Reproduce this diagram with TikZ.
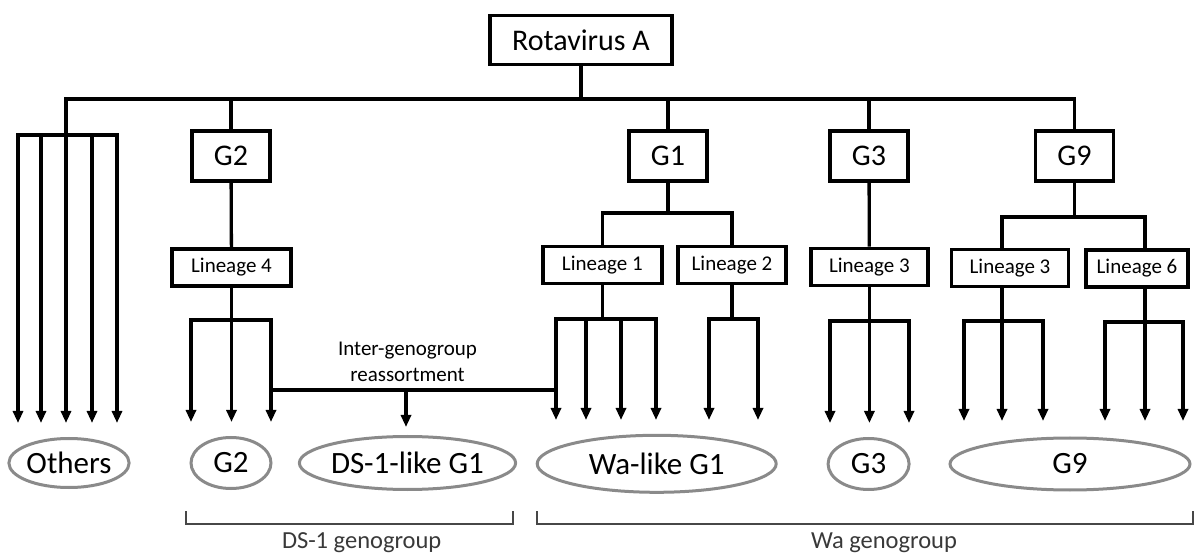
\documentclass[tikz,border=0pt]{standalone}
\usepackage{fontspec}
\setmainfont{Carlito}
\usetikzlibrary{arrows.meta,shapes.geometric}
\definecolor{ellgray}{HTML}{8A8A8A}
\definecolor{brgray}{HTML}{474747}
\tikzset{
  bigbox/.style={draw, line width=3.6pt, inner sep=0pt, minimum height=50pt, font=\fontsize{30}{36}\selectfont},
  linbox/.style={draw, line width=3.6pt, inner sep=0pt, minimum height=37pt, font=\fontsize{21}{25}\selectfont},
  conn/.style={line width=3.3pt},
  arr/.style={line width=3.3pt, -{Triangle[width=10pt,length=12pt]}},
  grp/.style={draw=ellgray, line width=3pt, ellipse, inner sep=0pt, font=\fontsize{31}{37}\selectfont},
  bracketline/.style={draw=brgray, line width=2.4pt},
  grplabel/.style={text=brgray!80!black, font=\fontsize{24.5}{29}\selectfont, inner sep=0pt}
}
\begin{document}
\begin{tikzpicture}[x=1pt,y=-1pt]
\useasboundingbox (0,0) rectangle (1195,553);

% top-level boxes
\node[bigbox, minimum width=182pt, minimum height=49pt] (root) at (581,40) {Rotavirus A};
\node[bigbox, minimum width=78pt] (G2) at (231,156) {G2};
\node[bigbox, minimum width=78pt] (G1) at (668,156) {G1};
\node[bigbox, minimum width=78pt] (G3) at (869,156) {G3};
\node[bigbox, minimum width=78pt] (G9) at (1074.4,156) {G9};

% lineage boxes
\node[linbox, minimum width=119pt] (L4) at (231.5,267.5) {Lineage 4};
\node[linbox, minimum width=119pt] (L1) at (602.3,265) {Lineage 1};
\node[linbox, minimum width=108pt] (L2) at (732,265) {Lineage 2};
\node[linbox, minimum width=117pt] (L3a) at (869.4,267) {Lineage 3};
\node[linbox, minimum width=117pt] (L3b) at (1010,268) {Lineage 3};
\node[linbox, minimum width=102pt] (L6) at (1137,268.5) {Lineage 6};

% group ellipses
\node[grp, minimum width=120pt, minimum height=49pt] (eOth) at (69,463) {Others};
\node[grp, minimum width=80pt, minimum height=51pt] (eG2) at (231,463) {G2};
\node[grp, minimum width=205pt, minimum height=53pt] (eDS) at (407.5,463) {DS-1-like G1};
\node[grp, minimum width=239pt, minimum height=57pt] (eWa) at (656.7,463.8) {Wa-like G1};
\node[grp, minimum width=81pt, minimum height=51pt] (eG3) at (868.6,464) {G3};
\node[grp, minimum width=240pt, minimum height=52pt] (eG9) at (1070,464) {G9};

% main bar
\coordinate (barL) at (66,99);
\coordinate (barR) at (1074.4,99);
\draw[conn] (root.south) -- (root.south |- barL);
\draw[conn, line cap=rect] (barL) -- (barR);
\draw[conn] (G2.north |- barL) -- (G2.north);
\draw[conn] (G1.north |- barL) -- (G1.north);
\draw[conn] (G3.north |- barL) -- (G3.north);
\draw[conn] (barR) -- (G9.north);

% Others
\coordinate (othJ) at (66,135);
\coordinate (othA) at (18,135);
\coordinate (othB) at (117,135);
\draw[conn] (barL) -- (othJ);
\draw[conn, line cap=rect] (othA) -- (othB);
\foreach \x/\n in {18/1,41/2,66/3,92/4,117/5}{
  \coordinate (ot\n) at (\x,423);
  \draw[arr] (\x,135) -- (ot\n);
}

% G2 branch
\draw[conn] (G2) -- (L4);
\coordinate (l4J) at (231.5,320);
\draw[conn] (L4.south) -- (l4J);
\draw[conn, line cap=rect] (191,320) -- (271,320);
\foreach \x/\n in {191/1,231.5/2,271/3}{
  \coordinate (l4t\n) at (\x,422);
  \draw[arr] (\x,320) -- (l4t\n);
}

% reassortment
\coordinate (reL) at (271,390);
\coordinate (reR) at (556,390);
\coordinate (reM) at (406,390);
\coordinate (reT) at (406,427);
\draw[conn] (reL) -- (reR);
\draw[arr] (reM) -- (reT);
\node[font=\fontsize{21}{26}\selectfont, align=center, inner sep=0pt] (relab) at (407.5,362) {Inter-genogroup\\reassortment};

% G1 branch
\coordinate (g1J) at (668,213);
\draw[conn] (G1.south) -- (g1J);
\draw[conn, line cap=rect] (L1.north |- g1J) -- (L2.north |- g1J);
\draw[conn] (L1.north |- g1J) -- (L1.north);
\draw[conn] (L2.north |- g1J) -- (L2.north);
\coordinate (l1J) at (602.3,319);
\draw[conn] (L1.south) -- (l1J);
\draw[conn, line cap=rect] (556,319) -- (656,319);
\foreach \x/\n in {556/1,586/2,621/3,656/4}{
  \coordinate (l1t\n) at (\x,420);
  \draw[arr] (\x,319) -- (l1t\n);
}
\coordinate (l2J) at (732,319);
\draw[conn] (L2.south) -- (l2J);
\draw[conn, line cap=rect] (709,319) -- (758,319);
\foreach \x/\n in {709/1,758/2}{
  \coordinate (l2t\n) at (\x,420);
  \draw[arr] (\x,319) -- (l2t\n);
}

% G3 branch
\draw[conn] (G3) -- (L3a);
\coordinate (l3aJ) at (869.4,321);
\draw[conn] (L3a.south) -- (l3aJ);
\draw[conn, line cap=rect] (830,321) -- (909,321);
\foreach \x/\n in {830/1,869.4/2,909/3}{
  \coordinate (l3at\n) at (\x,423);
  \draw[arr] (\x,321) -- (l3at\n);
}

% G9 branch
\coordinate (g9J) at (1074.4,217);
\coordinate (g9L) at (1002,217);
\coordinate (g9R) at (1145,217);
\draw[conn] (G9.south) -- (g9J);
\draw[conn, line cap=rect] (g9L) -- (g9R);
\draw[conn] (g9L) -- (g9L |- L3b.north);
\draw[conn] (g9R) -- (g9R |- L6.north);
\draw[conn] (g9L |- L3b.south) -- (1002,321);
\draw[conn, line cap=rect] (964,321) -- (1043,321);
\foreach \x/\n in {964/1,1002/2,1043/3}{
  \coordinate (l3bt\n) at (\x,421);
  \draw[arr] (\x,321) -- (l3bt\n);
}
\draw[conn] (g9R |- L6.south) -- (1145,322);
\draw[conn, line cap=rect] (1105,322) -- (1183,322);
\foreach \x/\n in {1105/1,1145/2,1183/3}{
  \coordinate (l6t\n) at (\x,421);
  \draw[arr] (\x,322) -- (l6t\n);
}

% genogroup brackets
\draw[bracketline] (186,511) -- (186,524) -- (513,524) -- (513,511);
\draw[bracketline] (537,511) -- (537,524) -- (1193,524) -- (1193,511);
\node[grplabel] (dslab) at (361.7,543) {DS-1 genogroup};
\node[grplabel] (walab) at (884,543) {Wa genogroup};
\end{tikzpicture}
\end{document}
